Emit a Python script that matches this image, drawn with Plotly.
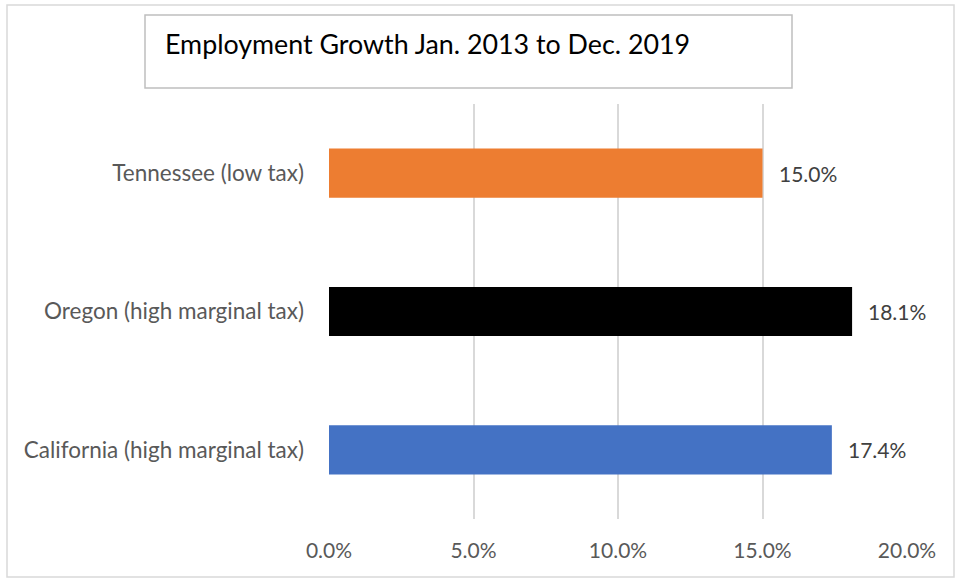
import plotly.graph_objects as go

categories = ["California (high marginal tax)", "Oregon (high marginal tax)", "Tennessee (low tax)"]
values = [17.4, 18.1, 15.0]
colors = ["#4472C4", "#000000", "#ED7D31"]
tick_vals = [0, 5, 10, 15, 20]
tick_text = ["0.0%", "5.0%", "10.0%", "15.0%", "20.0%"]
title_text = "Employment Growth Jan. 2013 to Dec. 2019"

W, H = 956, 579
L, R, T, B = 329, 907, 104, 519
pw, ph = R - L, B - T

def px(x):
    return (x - L) / pw

def py(y):
    return (B - y) / ph

FONT = "Lato, Calibri, Carlito, sans-serif"

fig = go.Figure()
fig.add_trace(go.Bar(
    y=categories, x=values, orientation="h",
    marker=dict(color=colors, line=dict(width=0)),
    width=0.355, hoverinfo="x+y",
))

for c, v in zip(categories, values):
    fig.add_annotation(x=v, y=c, xref="x", yref="y", text=f"{v:.1f}%",
                       showarrow=False, xanchor="left", yanchor="middle", xshift=14,
                       font=dict(family=FONT, size=21, color="#404040"))

fig.update_layout(
    width=W, height=H,
    margin=dict(l=L, r=W - R, t=T, b=H - B, pad=0),
    paper_bgcolor="white", plot_bgcolor="white",
    showlegend=False,
    xaxis=dict(range=[0, 20], tickvals=tick_vals, ticktext=tick_text,
               showgrid=True, gridcolor="#D9D9D9", gridwidth=1.5,
               zeroline=False, showline=False, ticks="",
               ticklabelstandoff=17,
               tickfont=dict(family=FONT, size=21, color="#595959"),
               fixedrange=True),
    yaxis=dict(showgrid=False, zeroline=False, showline=False, ticks="",
               ticklabelstandoff=24,
               tickfont=dict(family=FONT, size=22.5, color="#595959"),
               fixedrange=True),
    font=dict(family=FONT),
)

# outer chart border
fig.add_shape(type="rect", xref="paper", yref="paper",
              x0=px(7), x1=px(954), y0=py(577), y1=py(5),
              line=dict(color="#D9D9D9", width=1.5), fillcolor="rgba(0,0,0,0)", layer="below")
# title box
fig.add_shape(type="rect", xref="paper", yref="paper",
              x0=px(145), x1=px(792), y0=py(88), y1=py(15),
              line=dict(color="#BFBFBF", width=1.5), fillcolor="white")
fig.add_annotation(xref="paper", yref="paper", x=px(163), y=py(44),
                   xanchor="left", yanchor="middle", showarrow=False,
                   text=title_text, font=dict(family=FONT, size=26.8, color="#000000"))

fig.write_html("out.html")
